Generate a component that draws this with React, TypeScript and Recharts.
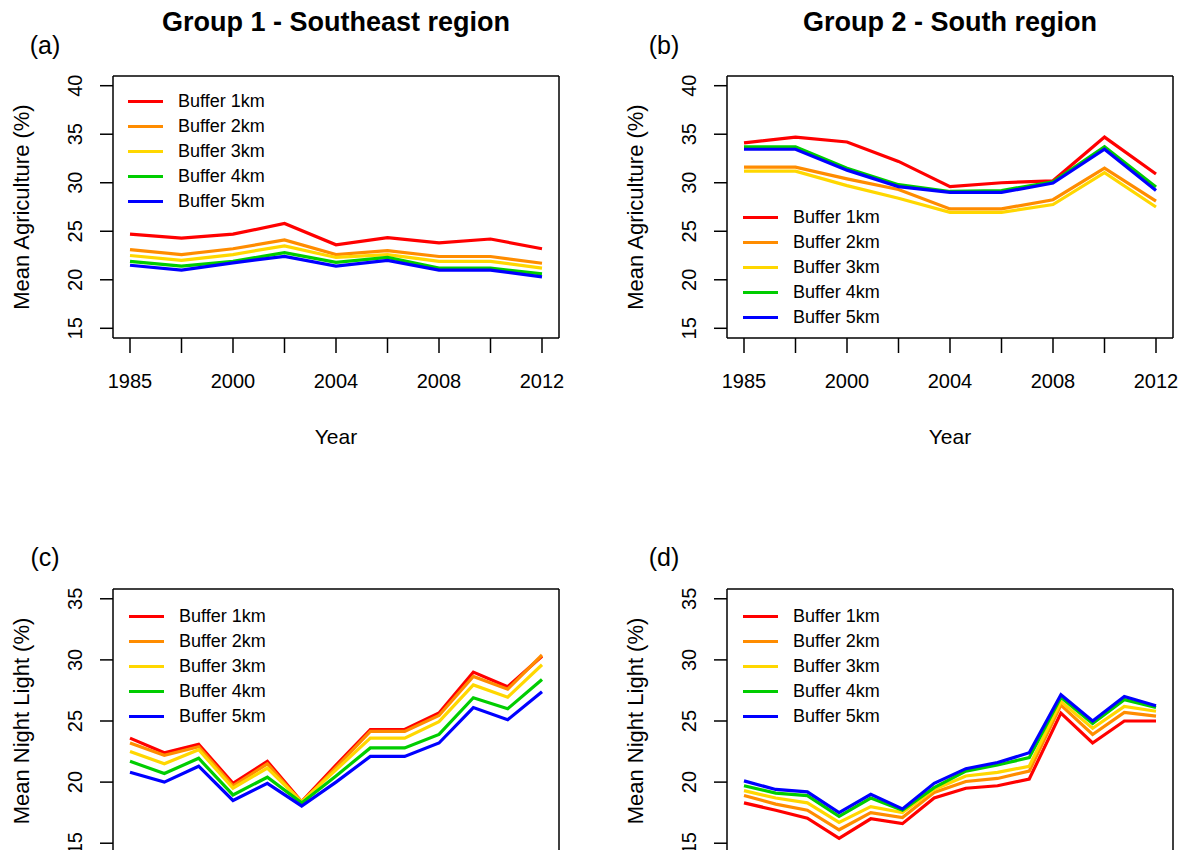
import React from "react";
import { LineChart, Line, XAxis, YAxis, Legend } from "recharts";

const FONT = '"Liberation Sans", Arial, sans-serif';

const COLORS = ["#FF0000", "#FF8C00", "#FFD700", "#00CD00", "#0000FF"];
const BUFFER_NAMES = ["Buffer 1km", "Buffer 2km", "Buffer 3km", "Buffer 4km", "Buffer 5km"];

// agriculture panels (a) and (b)
const agriYears = ["1985", "1995", "2000", "2002", "2004", "2006", "2008", "2010", "2012"];
const agriTicks = [15, 20, 25, 30, 35, 40];

const agriSE1 = [24.7, 24.3, 24.7, 25.8, 23.6, 24.35, 23.8, 24.2, 23.2];
const agriSE2 = [23.1, 22.6, 23.2, 24.1, 22.6, 23.0, 22.4, 22.4, 21.7];
const agriSE3 = [22.5, 22.0, 22.6, 23.5, 22.3, 22.6, 21.9, 21.9, 21.2];
const agriSE4 = [21.9, 21.4, 21.9, 22.8, 21.8, 22.3, 21.2, 21.2, 20.6];
const agriSE5 = [21.5, 21.0, 21.75, 22.4, 21.4, 22.0, 21.0, 21.0, 20.3];

const agriS1 = [34.1, 34.7, 34.2, 32.2, 29.6, 30.0, 30.2, 34.7, 30.9];
const agriS2 = [31.6, 31.6, 30.4, 29.3, 27.3, 27.3, 28.25, 31.5, 28.1];
const agriS3 = [31.2, 31.2, 29.7, 28.4, 26.95, 26.95, 27.75, 31.05, 27.5];
const agriS4 = [33.7, 33.7, 31.5, 29.8, 29.1, 29.2, 30.1, 33.7, 29.55];
const agriS5 = [33.45, 33.45, 31.3, 29.6, 29.0, 29.0, 29.97, 33.45, 29.2];

// night light panels (c) and (d)
const nightTicks = [15, 20, 25, 30, 35];
const nightYearsSE = ["2000", "2001", "2002", "2003", "2004", "2005", "2006", "2007", "2008", "2009", "2010", "2011", "2012"];
const nightYearsS = ["1999", "2000", "2001", "2002", "2003", "2004", "2005", "2006", "2007", "2008", "2009", "2010", "2011", "2012"];

const nightSE1 = [23.6, 22.4, 23.1, 19.9, 21.7, 18.4, 21.4, 24.3, 24.3, 25.65, 29.0, 27.8, 30.3];
const nightSE2 = [23.2, 22.2, 22.9, 19.7, 21.5, 18.3, 21.2, 24.15, 24.15, 25.45, 28.65, 27.6, 30.4];
const nightSE3 = [22.5, 21.5, 22.65, 19.5, 21.15, 18.4, 21.0, 23.6, 23.6, 24.95, 27.95, 26.95, 29.6];
const nightSE4 = [21.7, 20.7, 21.95, 18.95, 20.4, 18.3, 20.5, 22.8, 22.8, 23.9, 26.9, 26.0, 28.4];
const nightSE5 = [20.8, 20.0, 21.3, 18.5, 19.9, 18.05, 20.0, 22.1, 22.1, 23.2, 26.1, 25.1, 27.4];

const nightS1 = [18.3, 17.7, 17.05, 15.4, 17.0, 16.6, 18.7, 19.5, 19.7, 20.25, 25.65, 23.2, 25.0, 25.0];
const nightS2 = [18.9, 18.2, 17.7, 16.1, 17.5, 17.1, 19.15, 20.05, 20.3, 20.9, 26.3, 23.9, 25.7, 25.4];
const nightS3 = [19.3, 18.7, 18.3, 16.7, 18.0, 17.5, 19.4, 20.5, 20.8, 21.3, 26.6, 24.4, 26.2, 25.8];
const nightS4 = [19.7, 19.1, 18.9, 17.2, 18.7, 17.7, 19.55, 20.9, 21.4, 22.0, 26.95, 24.8, 26.75, 26.1];
const nightS5 = [20.1, 19.4, 19.2, 17.5, 19.0, 17.8, 19.9, 21.1, 21.6, 22.4, 27.15, 25.0, 27.0, 26.25];

const KEYS = ["b1", "b2", "b3", "b4", "b5"];

function buildRows(years: string[], series: number[][]) {
  return years.map((year, i) => {
    const row: any = { year };
    series.forEach((s, k) => {
      row[KEYS[k]] = s[i];
    });
    return row;
  });
}

function XTick(props: any) {
  const { x, y, payload, index } = props;
  if (index % 2 !== 0) return <g />;
  return (
    <text x={x} y={y} dy={33} textAnchor="middle" fontSize={20} fill="#000" fontFamily={FONT}>
      {payload.value}
    </text>
  );
}

function YTick(props: any) {
  const { x, y, payload } = props;
  return (
    <text
      transform={`translate(${x - 16}, ${y}) rotate(-90)`}
      textAnchor="middle"
      fontSize={20}
      fill="#000"
      fontFamily={FONT}
    >
      {payload.value}
    </text>
  );
}

function BufferLegend(props: any) {
  const { payload } = props;
  return (
    <div style={{ fontFamily: FONT, fontSize: 18, color: "#000" }}>
      {(payload || []).map((entry: any) => (
        <div key={entry.value} style={{ display: "flex", alignItems: "center", height: 24.9 }}>
          <span style={{ display: "inline-block", width: 35, height: 3, background: entry.color, marginRight: 15 }} />
          <span style={{ lineHeight: "20px" }}>{entry.value}</span>
        </div>
      ))}
    </div>
  );
}

interface PanelProps {
  left: number;
  top: number;
  width: number;
  height: number;
  plot: { x0: number; y0: number; x1: number; y1: number };
  years: string[];
  series: number[][];
  yDomain: [number, number];
  yTicks: number[];
  legendAt: { left: number; top: number };
  xLabels: boolean;
}

function Panel({ left, top, width, height, plot, years, series, yDomain, yTicks, legendAt, xLabels }: PanelProps) {
  const data = buildRows(years, series);
  const margin = {
    top: plot.y0 - 1,
    left: plot.x0 - 60,
    right: width - plot.x1 - 1,
    bottom: height - plot.y1 - 60,
  };
  return (
    <div style={{ position: "absolute", left, top }}>
      <LineChart width={width} height={height} data={data} margin={margin} style={{ fontFamily: FONT }}>
        <XAxis
          dataKey="year"
          interval={0}
          tickSize={15}
          height={60}
          stroke="#000"
          strokeWidth={1.5}
          padding={{ left: 17, right: 17 }}
          tick={xLabels ? XTick : false}
        />
        <XAxis
          xAxisId="top"
          dataKey="year"
          orientation="top"
          height={1}
          tick={false}
          tickLine={false}
          stroke="#000"
          strokeWidth={1.5}
        />
        <YAxis
          type="number"
          domain={yDomain}
          ticks={yTicks}
          allowDataOverflow
          tickSize={13}
          width={60}
          stroke="#000"
          strokeWidth={1.5}
          tick={YTick}
        />
        <YAxis
          yAxisId="right"
          orientation="right"
          type="number"
          domain={[0, 1]}
          width={1}
          tick={false}
          tickLine={false}
          stroke="#000"
          strokeWidth={1.5}
        />
        <Legend
          layout="vertical"
          align="center"
          verticalAlign="middle"
          content={BufferLegend}
          wrapperStyle={{ left: legendAt.left, top: legendAt.top, width: 200, height: 130 }}
        />
        {KEYS.map((k, i) => (
          <Line
            key={k}
            type="linear"
            dataKey={k}
            name={BUFFER_NAMES[i]}
            stroke={COLORS[i]}
            strokeWidth={3.2}
            dot={false}
            isAnimationActive={false}
          />
        ))}
      </LineChart>
    </div>
  );
}

const textBase: React.CSSProperties = {
  position: "absolute",
  fontFamily: FONT,
  color: "#000",
  whiteSpace: "nowrap",
  lineHeight: 1,
};

function Caption({ x, y, size, bold, rotate, children }: any) {
  return (
    <div
      style={{
        ...textBase,
        left: x,
        top: y,
        fontSize: size,
        fontWeight: bold ? "bold" : "normal",
        transform: rotate ? "translate(-50%, -50%) rotate(-90deg)" : "translate(-50%, -50%)",
      }}
    >
      {children}
    </div>
  );
}

export default function App() {
  return (
    <div
      style={{
        position: "absolute",
        left: 0,
        top: 0,
        width: 1184,
        height: 850,
        overflow: "hidden",
        background: "#fff",
      }}
    >
      <Panel
        left={0}
        top={0}
        width={592}
        height={460}
        plot={{ x0: 113, y0: 76, x1: 559, y1: 338 }}
        years={agriYears}
        series={[agriSE1, agriSE2, agriSE3, agriSE4, agriSE5]}
        yDomain={[14, 41]}
        yTicks={agriTicks}
        legendAt={{ left: 128, top: 89 }}
        xLabels
      />
      <Panel
        left={592}
        top={0}
        width={592}
        height={460}
        plot={{ x0: 135, y0: 76, x1: 581, y1: 338 }}
        years={agriYears}
        series={[agriS1, agriS2, agriS3, agriS4, agriS5]}
        yDomain={[14, 41]}
        yTicks={agriTicks}
        legendAt={{ left: 151, top: 205 }}
        xLabels
      />
      <Panel
        left={0}
        top={460}
        width={592}
        height={470}
        plot={{ x0: 113, y0: 129, x1: 559, y1: 393 }}
        years={nightYearsSE}
        series={[nightSE1, nightSE2, nightSE3, nightSE4, nightSE5]}
        yDomain={[14.2, 35.8]}
        yTicks={nightTicks}
        legendAt={{ left: 129, top: 144 }}
        xLabels={false}
      />
      <Panel
        left={592}
        top={460}
        width={592}
        height={470}
        plot={{ x0: 135, y0: 129, x1: 581, y1: 393 }}
        years={nightYearsS}
        series={[nightS1, nightS2, nightS3, nightS4, nightS5]}
        yDomain={[14.2, 35.8]}
        yTicks={nightTicks}
        legendAt={{ left: 151, top: 144 }}
        xLabels={false}
      />

      <Caption x={336} y={22} size={27} bold>Group 1 - Southeast region</Caption>
      <Caption x={950} y={22} size={27} bold>Group 2 - South region</Caption>
      <Caption x={45} y={45} size={25}>(a)</Caption>
      <Caption x={664} y={45} size={25}>(b)</Caption>
      <Caption x={45} y={557} size={25}>(c)</Caption>
      <Caption x={664} y={557} size={25}>(d)</Caption>

      <Caption x={22} y={207} size={22} rotate>Mean Agriculture (%)</Caption>
      <Caption x={636} y={207} size={22} rotate>Mean Agriculture (%)</Caption>
      <Caption x={22} y={721} size={22} rotate>Mean Night Light (%)</Caption>
      <Caption x={636} y={721} size={22} rotate>Mean Night Light (%)</Caption>

      <Caption x={336} y={436} size={21}>Year</Caption>
      <Caption x={950} y={436} size={21}>Year</Caption>
    </div>
  );
}
